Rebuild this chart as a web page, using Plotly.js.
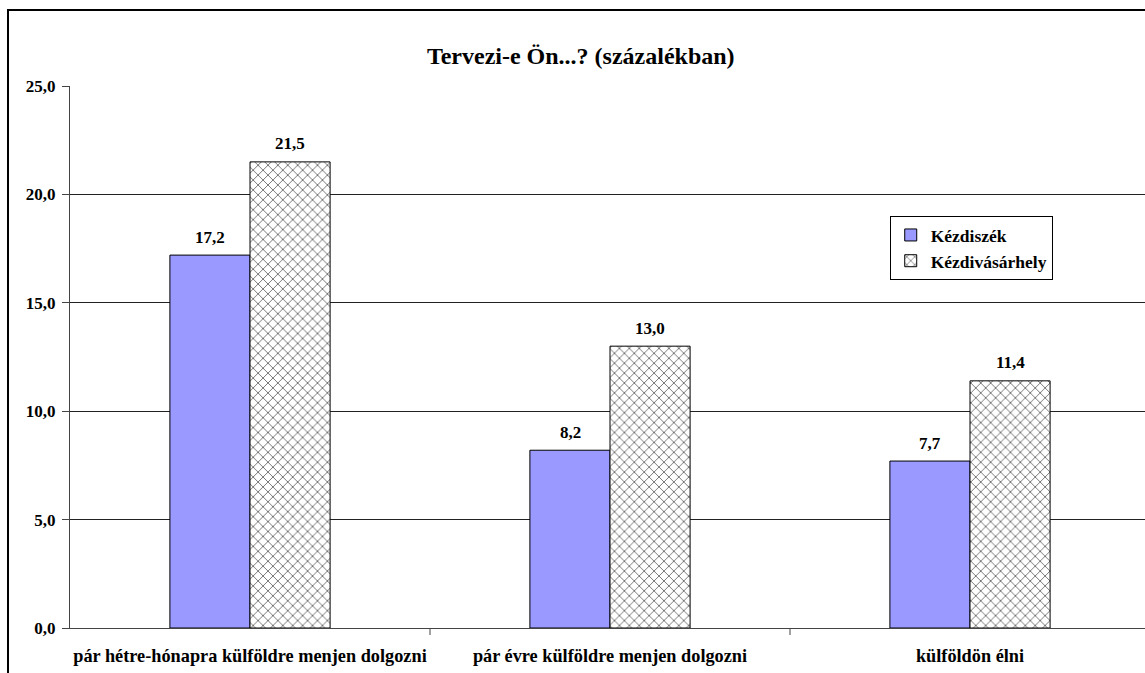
<!DOCTYPE html>
<html>
<head>
<meta charset="utf-8">
<script src="https://cdn.plot.ly/plotly-3.0.1.min.js"></script>
<style>
html,body{margin:0;padding:0;overflow:hidden;background:#fff;width:1145px;height:673px;}
#chart{position:absolute;left:0;top:0;width:1150px;height:673px;}
#frame{position:absolute;left:7px;top:9px;width:1200px;height:700px;border-left:2px solid #000;border-top:2px solid #000;pointer-events:none;}
</style>
</head>
<body>
<div id="chart"></div>
<div id="frame"></div>
<script>
const categories = ["pár hétre-hónapra külföldre menjen dolgozni", "pár évre külföldre menjen dolgozni", "külföldön élni"];
const seriesNames = ["Kézdiszék", "Kézdivásárhely"];
const kezdiszek = [17.2, 8.2, 7.7];
const kezdivasarhely = [21.5, 13.0, 11.4];
const yTicks = [0, 5, 10, 15, 20, 25];

const font = {family: "Liberation Serif, Times New Roman, serif", color: "#000"};
const bold = (s) => Object.assign({}, font, {size: s, weight: "bold"});
const traces = [
  {
    type: "bar", name: seriesNames[0], x: categories, y: kezdiszek, legendgroup: "a",
    marker: {color: "#9999FF", line: {color: "#000", width: 1}}
  },
  {
    type: "bar", name: seriesNames[1], x: categories, y: kezdivasarhely, legendgroup: "b",
    marker: {color: "#ffffff", line: {color: "#000", width: 1},
      pattern: {shape: "x", fgcolor: "#707070", bgcolor: "#ffffff", size: 7, solidity: 0.25}}
  }
];
const annotations = [];
[kezdiszek, kezdivasarhely].forEach((vals, s) => {
  vals.forEach((v, i) => {
    annotations.push({x: categories[i], y: v, xref: "x", yref: "y", text: v.toFixed(1).replace(".", ","),
      showarrow: false, xshift: s === 0 ? -40 : 40, yshift: 18, font: bold(17)});
  });
});
const layout = {
  width: 1150, height: 673,
  margin: {l: 70, r: 0, t: 86, b: 45},
  paper_bgcolor: "#fff", plot_bgcolor: "#fff",
  separators: ",.",
  font: bold(17),
  title: {text: "Tervezi-e Ön...? (százalékban)", x: 0.505, xanchor: "center", y: 0.918, yanchor: "middle",
    font: bold(24)},
  barmode: "group", bargap: 0.555, bargroupgap: 0,
  showlegend: true,
  legend: {x: 0.759, y: 0.76, xanchor: "left", yanchor: "top", bgcolor: "#fff", bordercolor: "#000", borderwidth: 1,
    font: bold(17.5), tracegroupgap: 0, itemwidth: 30},
  annotations: annotations,
  xaxis: {
    type: "category", range: [-0.5, 2.5], showgrid: false, showline: true, linecolor: "#444", linewidth: 1,
    ticks: "", tickfont: bold(18.3), ticklabelstandoff: 11,
    fixedrange: true
  },
  yaxis: {
    range: [0, 25], tickvals: yTicks, tickformat: ".1f", showgrid: true, gridcolor: "#222", gridwidth: 1,
    showline: true, linecolor: "#444", linewidth: 1, ticks: "outside", ticklen: 7, tickcolor: "#444",
    tickfont: bold(17), ticklabelstandoff: 3, zeroline: false, fixedrange: true
  },
  shapes: [1, 2].map(i => ({type: "line", xref: "x", yref: "paper", x0: i - 0.5, x1: i - 0.5, y0: 0, y1: -0.013,
    line: {color: "#444", width: 1}}))
};
Plotly.newPlot("chart", traces, layout, {displayModeBar: false, staticPlot: true});
</script>
</body>
</html>
